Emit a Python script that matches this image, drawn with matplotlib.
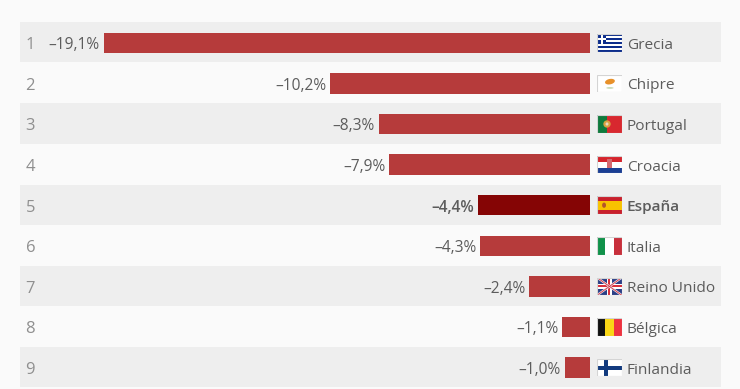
import matplotlib
matplotlib.use("Agg")
import matplotlib.pyplot as plt
from matplotlib.patches import Rectangle, Ellipse

countries = ["Grecia", "Chipre", "Portugal", "Croacia", "España", "Italia", "Reino Unido", "Bélgica", "Finlandia"]
values = [-19.1, -10.2, -8.3, -7.9, -4.4, -4.3, -2.4, -1.1, -1.0]
ranks = [1, 2, 3, 4, 5, 6, 7, 8, 9]
highlight = "España"

W, H = 740, 389
BG = "#fafafa"; BAND = "#eeeeee"; BAR = "#b63b3b"; BAR_HI = "#850505"
TXT = "#5c5c5c"; RANK = "#8f8f8f"
PX_PER_UNIT = 25.47; X0 = 590.0
Y0 = 42.8; ROW = 40.6

plt.rcParams["font.family"] = ["Open Sans", "DejaVu Sans"]
fig = plt.figure(figsize=(W / 100, H / 100), dpi=100, facecolor=BG)
ax = fig.add_axes([0, 0, 1, 1])
ax.set_xlim(-X0 / PX_PER_UNIT, (W - X0) / PX_PER_UNIT)
ax.set_ylim((H - Y0) / ROW, -Y0 / ROW)
ax.axis("off")

pos = list(range(len(values)))
band_l = (20 - X0) / PX_PER_UNIT
band_w = (721 - 20) / PX_PER_UNIT
for i in pos:
    if i % 2 == 0:
        ax.add_patch(Rectangle((band_l, i - 20.6 / ROW), band_w, 40.2 / ROW, fc=BAND, ec="none", zorder=0))

colors = [BAR_HI if c == highlight else BAR for c in countries]
ax.barh(pos, values, height=20.5 / ROW, color=colors, zorder=2)

for i, (r_, v, c) in enumerate(zip(ranks, values, countries)):
    hi = c == highlight
    ax.annotate(str(r_), (band_l, i), xytext=(4.0, -0.3), textcoords="offset points", ha="left", va="center_baseline",
                fontsize=12, color=RANK)
    label = "–" + f"{abs(v):.1f}".replace(".", ",") + "%"
    ax.annotate(label, (v, i), xytext=(-2.6, -0.3), textcoords="offset points", ha="right", va="center_baseline",
                fontsize=11.2, color=TXT, fontweight=600 if hi else "normal")
    ax.annotate(c, (0, i), xytext=(26.4, -0.3), textcoords="offset points", ha="left", va="center_baseline",
                fontsize=11.1, color=TXT, fontweight=600 if hi else "normal")


def flag_ax(i):
    cy = Y0 + ROW * i
    w, h = 24.5, 17.5
    a = fig.add_axes([597.2 / W, 1 - (cy + h / 2) / H, w / W, h / H])
    a.set_xlim(0, 1); a.set_ylim(0, 1); a.axis("off")
    return a


def r(a, x, y, w, h, c):
    a.add_patch(Rectangle((x, y), w, h, fc=c, ec="none"))


def greece(a):
    for k in range(9):
        r(a, 0, k / 9, 1, 1 / 9, "#0d2d8c" if k % 2 == 0 else "#ffffff")
    r(a, 0, 4 / 9, 5 / 13.5, 5 / 9, "#0d2d8c")
    r(a, 2 / 13.5, 4 / 9, 1 / 13.5, 5 / 9, "#ffffff")
    r(a, 0, 6 / 9, 5 / 13.5, 1 / 9, "#ffffff")


def cyprus(a):
    r(a, 0, 0, 1, 1, "#ffffff")
    a.add_patch(Ellipse((0.52, 0.6), 0.42, 0.3, angle=25, fc="#e8912a", ec="none"))
    a.add_patch(Ellipse((0.52, 0.24), 0.3, 0.08, fc="#b9cfa0", ec="none"))


def portugal(a):
    r(a, 0, 0, 1, 1, "#d8282f")
    r(a, 0, 0, 0.4, 1, "#0f7a3c")
    a.add_patch(Ellipse((0.4, 0.5), 0.3, 0.42, fc="#d9a040", ec="none"))
    a.add_patch(Ellipse((0.4, 0.5), 0.12, 0.18, fc="#e9d9c0", ec="none"))


def croatia(a):
    r(a, 0, 2 / 3, 1, 1 / 3, "#d6242c")
    r(a, 0, 1 / 3, 1, 1 / 3, "#ffffff")
    r(a, 0, 0, 1, 1 / 3, "#1b3f94")
    r(a, 0.38, 0.3, 0.24, 0.5, "#d46a70")


def spain(a):
    r(a, 0, 0, 1, 1, "#c8202c")
    r(a, 0, 0.25, 1, 0.5, "#f8c300")
    a.add_patch(Ellipse((0.28, 0.5), 0.16, 0.3, fc="#b4552a", ec="none"))


def italy(a):
    r(a, 0, 0, 1 / 3, 1, "#11924a")
    r(a, 1 / 3, 0, 1 / 3, 1, "#ffffff")
    r(a, 2 / 3, 0, 1 / 3, 1, "#c8303c")


def uk(a):
    r(a, 0, 0, 1, 1, "#2b3f86")
    a.plot([0, 1], [0, 1], color="#e8e8f0", lw=1.6, solid_capstyle="butt")
    a.plot([0, 1], [1, 0], color="#e8e8f0", lw=1.6, solid_capstyle="butt")
    a.plot([0, 1], [0, 1], color="#d8303c", lw=0.6, solid_capstyle="butt")
    a.plot([0, 1], [1, 0], color="#d8303c", lw=0.6, solid_capstyle="butt")
    r(a, 0.41, 0, 0.18, 1, "#ffffff")
    r(a, 0, 0.36, 1, 0.28, "#ffffff")
    r(a, 0.46, 0, 0.08, 1, "#d8303c")
    r(a, 0, 0.44, 1, 0.12, "#d8303c")


def belgium(a):
    r(a, 0, 0, 1 / 3, 1, "#111111")
    r(a, 1 / 3, 0, 1 / 3, 1, "#f9d616")
    r(a, 2 / 3, 0, 1 / 3, 1, "#ee3340")


def finland(a):
    r(a, 0, 0, 1, 1, "#ffffff")
    r(a, 0, 0.39, 1, 0.22, "#123a7e")
    r(a, 0.28, 0, 0.15, 1, "#123a7e")


for i, f in enumerate([greece, cyprus, portugal, croatia, spain, italy, uk, belgium, finland]):
    a = flag_ax(i)
    f(a)
    a.add_patch(Rectangle((0, 0), 1, 1, fc="none", ec="#d4d4d4", lw=0.8, zorder=5))

fig.savefig("out.png", dpi=100, facecolor=BG)
